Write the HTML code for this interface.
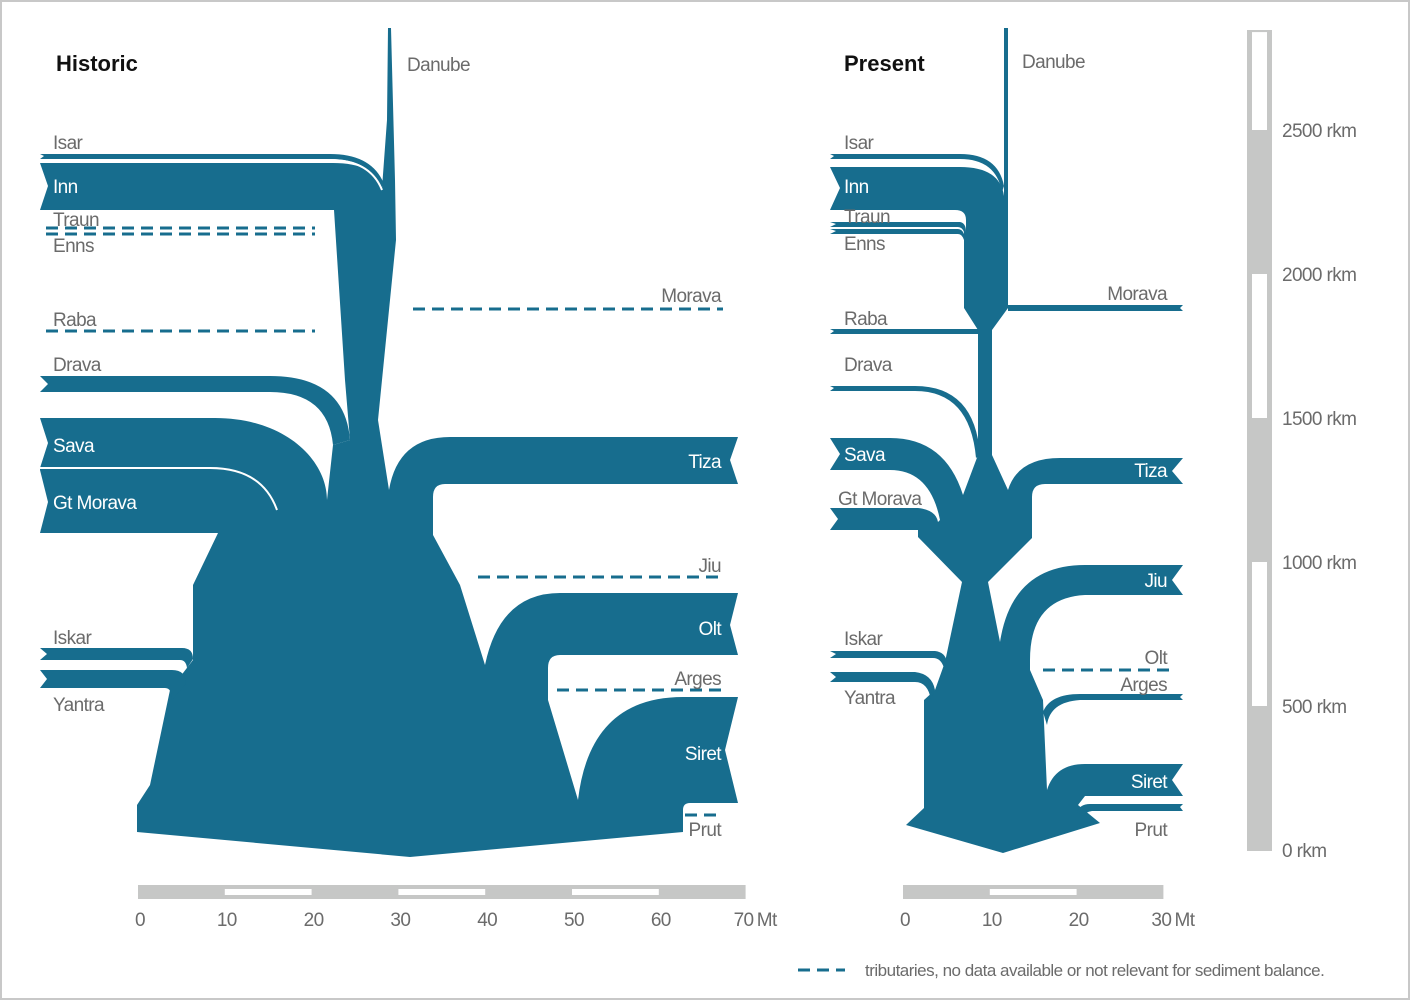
<!DOCTYPE html>
<html><head><meta charset="utf-8"><style>
html,body{margin:0;padding:0;background:#fff}
svg{display:block}
text{font-family:"Liberation Sans Narrow","Liberation Sans",sans-serif;}
.l{fill:#6b6b6b;font-size:19px;letter-spacing:-0.6px}
.w{fill:#fff;font-size:19px;letter-spacing:-0.6px}
.t{fill:#111;font-size:22px;font-weight:bold;font-family:"Liberation Sans",sans-serif}
.d{stroke:#176d8e;stroke-width:3;stroke-dasharray:12,7;fill:none}
.f{fill:#176d8e}
</style></head><body>
<svg id="chart" width="1410" height="1000" viewBox="0 0 1410 1000">
<rect x="1" y="1" width="1408" height="998" fill="#fff" stroke="#c8c8c8" stroke-width="2"/>
<text class="t" x="56" y="71">Historic</text>
<text class="t" x="844" y="71">Present</text>

<g>
<path class="f" d="M40,163 L333,163 Q375,163 382,188 L387,120 L388,28 L391,28 L395,180 L396,240 L378,420 L389,490 Q398,437 450,437 L738,437 L730,460 L738,484 L445,484 Q433,484 433,497 L433,535 L460,585 L485,665 Q500,593 560,593 L738,593 L730,625 L738,655 L560,655 Q548,655 548,668 L548,700 L578,800 Q590,697 683,697 L738,697 L725,750 L738,803 L690,803 Q683,803 683,810 L683,832 L410,857 L137,832 L137,805 L150,785 L170,690 L193,660 L193,585 L218,533 L40,533 L48,502 L40,470 L40,468 L48,443 L40,418 L215,418 C285,418 327,460 327,500 L333,445 L350,440 L345,380 L334,210 L40,210 L48,186 Z"/>
<path class="f" d="M40,154 L330,154 Q372,154 384,184 L381,188 Q370,159 330,159 L40,159 L44,156 Z"/>
<path class="f" d="M40,376 L270,376 Q345,376 350,440 L333,445 Q328,392 270,392 L40,392 L48,384 Z"/>
<path class="f" d="M40,648 L182,648 Q193,648 193,659 L187,668 Q186,660 180,660 L40,660 L47,654 Z"/>
<path class="f" d="M40,670 L172,670 Q186,670 186,684 L172,700 Q172,688 165,688 L40,688 L47,679 Z"/>
<path d="M40,160 L330,160 Q370,160 382,190" stroke="#fff" stroke-width="2" fill="none"/>
<path d="M40,468 L210,468 Q262,468 277,510" stroke="#fff" stroke-width="2" fill="none"/>
<line class="d" x1="46" y1="228" x2="315" y2="228"/>
<line class="d" x1="46" y1="234" x2="315" y2="234"/>
<line class="d" x1="46" y1="331" x2="315" y2="331"/>
<line class="d" x1="413" y1="309" x2="723" y2="309"/>
<line class="d" x1="478" y1="577" x2="723" y2="577"/>
<line class="d" x1="557" y1="690" x2="723" y2="690"/>
<line class="d" x1="685" y1="815" x2="723" y2="815"/>
</g>
<g>
<text class="l" x="407" y="71">Danube</text>
<text class="l" x="53" y="149">Isar</text>
<text class="w" x="53" y="193">Inn</text>
<text class="l" x="53" y="226">Traun</text>
<text class="l" x="53" y="252">Enns</text>
<text class="l" x="53" y="326">Raba</text>
<text class="l" x="53" y="371">Drava</text>
<text class="w" x="53" y="452">Sava</text>
<text class="w" x="53" y="509">Gt Morava</text>
<text class="l" x="53" y="644">Iskar</text>
<text class="l" x="53" y="711">Yantra</text>
<text class="l" x="721" y="302" text-anchor="end">Morava</text>
<text class="w" x="721" y="468" text-anchor="end">Tiza</text>
<text class="l" x="721" y="572" text-anchor="end">Jiu</text>
<text class="w" x="721" y="635" text-anchor="end">Olt</text>
<text class="l" x="721" y="685" text-anchor="end">Arges</text>
<text class="w" x="721" y="760" text-anchor="end">Siret</text>
<text class="l" x="721" y="836" text-anchor="end">Prut</text>
</g>

<g>
<path class="f" d="M830,167 L960,167 Q1000,167 1004,196 L1004,28 L1008,28 L1008,308 L992,330 L992,455 L1008,490 Q1018,458 1060,458 L1183,458 L1172,471 L1183,484 L1045,484 Q1032,484 1032,497 L1032,538 L988,582 L1000,642 Q1012,565 1085,565 L1183,565 L1172,580 L1183,595 L1085,595 Q1030,598 1030,660 L1030,670 L1043,700 L1047,790 Q1055,764 1085,764 L1183,764 L1172,780 L1183,796 L1085,796 L1078,805 L1100,823 L1003,853 L906,825 L924,808 L924,700 L935,690 L945,662 L962,582 L918,537 L918,530 L830,530 L838,519 L830,508 L918,508 Q936,510 938,522 L940,520 Q930,470 890,470 L830,470 L840,454 L830,438 L890,438 Q945,438 963,495 L978,455 L978,330 L964,308 L964,240 Q962,234 958,234 L830,234 L836,231 L830,229 L958,229 Q962,229 964,234 L964,232 Q962,227 958,227 L830,227 L836,224 L830,222 L960,222 Q966,223 966,232 L966,220 Q966,210 955,210 L830,210 L840,188 Z"/>
<path class="f" d="M830,154 L960,154 Q998,154 1004,186 L1002,192 Q996,159 960,159 L830,159 L834,156 Z"/>
<path class="f" d="M830,329 L978,329 L978,334 L830,334 L834,331 Z"/>
<path class="f" d="M830,386 L915,386 Q975,386 980,455 L976,458 Q970,391 915,391 L830,391 L834,388 Z"/>
<path class="f" d="M830,651 L935,651 Q945,652 947,662 L944,668 Q941,658 933,658 L830,658 L836,654 Z"/>
<path class="f" d="M830,672 L915,672 Q932,674 935,690 L931,700 Q928,682 915,682 L830,682 L836,677 Z"/>
<path class="f" d="M1008,305 L1183,305 L1180,308 L1183,311 L1008,311 Z"/>
<path class="f" d="M1080,694 L1183,694 L1180,697 L1183,700 L1080,700 Q1050,702 1047,725 L1043,712 Q1050,694 1080,694 Z"/>
<path class="f" d="M1090,804 L1183,804 L1180,807 L1183,811 L1092,811 Q1085,812 1083,816 L1077,812 Q1080,804 1090,804 Z"/>
<line class="d" x1="1043" y1="670" x2="1170" y2="670"/>
</g>
<g>
<text class="l" x="1022" y="68">Danube</text>
<text class="l" x="844" y="149">Isar</text>
<text class="w" x="844" y="193">Inn</text>
<text class="l" x="844" y="223">Traun</text>
<text class="l" x="844" y="250">Enns</text>
<text class="l" x="844" y="325">Raba</text>
<text class="l" x="844" y="371">Drava</text>
<text class="w" x="844" y="461">Sava</text>
<text class="l" x="838" y="505">Gt Morava</text>
<text class="l" x="844" y="645">Iskar</text>
<text class="l" x="844" y="704">Yantra</text>
<text class="l" x="1167" y="300" text-anchor="end">Morava</text>
<text class="w" x="1167" y="477" text-anchor="end">Tiza</text>
<text class="w" x="1167" y="587" text-anchor="end">Jiu</text>
<text class="l" x="1167" y="664" text-anchor="end">Olt</text>
<text class="l" x="1167" y="691" text-anchor="end">Arges</text>
<text class="w" x="1167" y="788" text-anchor="end">Siret</text>
<text class="l" x="1167" y="836" text-anchor="end">Prut</text>
</g>
<g id="axes"></g>
<g>
<line class="d" x1="798" y1="970" x2="845" y2="970"/>
<text class="l" x="865" y="976" style="font-size:17px;letter-spacing:-0.5px">tributaries, no data available or not relevant for sediment balance.</text>
</g>
</svg>
<script>
const histTicks = [0, 10, 20, 30, 40, 50, 60, 70];
const presTicks = [0, 10, 20, 30];
const rkmTicks = [0, 500, 1000, 1500, 2000, 2500];
const NS = "http://www.w3.org/2000/svg";
const axesG = document.getElementById('axes');
function el(tag, a) { const e = document.createElementNS(NS, tag); for (const k in a) e.setAttribute(k, a[k]); axesG.appendChild(e); return e; }
const PX_PER_MT = 8.68;
function hx(v) { return 138 + v * PX_PER_MT; }
function px(v) { return 903 + v * PX_PER_MT; }
function ry(v) { return 850 - v * 0.288; }
function drawMt(ticks, fx, name) {
  const max = ticks[ticks.length - 1];
  const bar = el('rect', {x: fx(0), y: 885, width: fx(max) - fx(0), height: 14, fill: '#c6c7c6'});
  
  
  for (let i = 1; i < ticks.length - 1; i += 2) {
    const s = el('rect', {x: fx(ticks[i]), y: 889, width: fx(ticks[i + 1]) - fx(ticks[i]), height: 6, fill: '#fff'});
    
    
  }
  ticks.forEach((t, i) => {
    const last = i === ticks.length - 1;
    const tx = el('text', {x: last ? fx(t) - 12 : fx(t) + 2, y: 926, 'text-anchor': last ? 'start' : 'middle', class: 'l'});
    
    
    tx.textContent = last ? t + '\u2009Mt' : String(t);
  });
}
drawMt(histTicks, hx, 'historic');
drawMt(presTicks, px, 'present');
const rb = el('rect', {x: 1247, y: 30, width: 25, height: 821, fill: '#c6c7c6'});


[[2500, 2840], [1500, 2000], [500, 1000]].forEach(([a, b]) => {
  const y1 = ry(b), y2 = ry(a);
  const s = el('rect', {x: 1252, y: y1, width: 15, height: y2 - y1, fill: '#fff'});
  
  
});
rkmTicks.forEach(t => {
  const tx = el('text', {x: 1282, y: ry(t) + 7, class: 'l'});
  
  
  tx.textContent = t + ' rkm';
});
</script>
</body></html>
